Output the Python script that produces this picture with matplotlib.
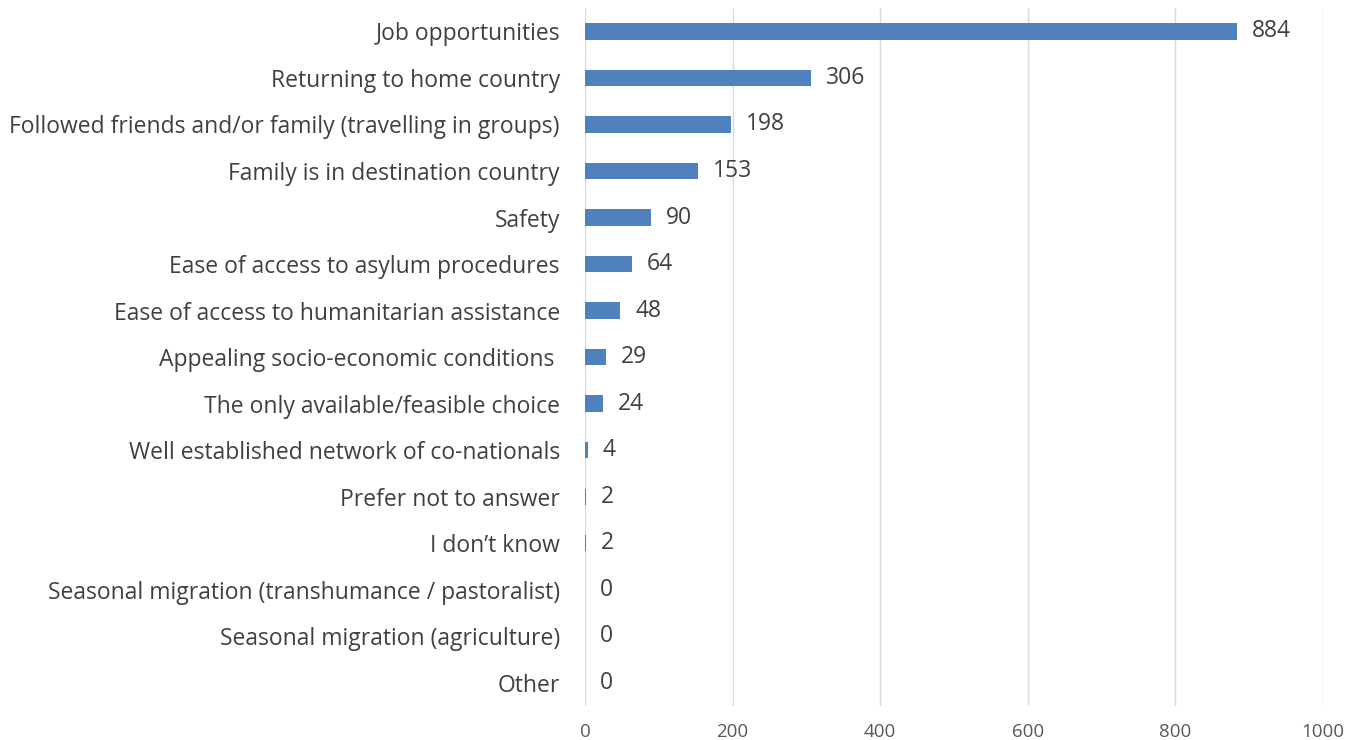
import matplotlib.pyplot as plt

categories = [
    'Job opportunities',
    'Returning to home country',
    'Followed friends and/or family (travelling in groups)',
    'Family is in destination country',
    'Safety',
    'Ease of access to asylum procedures',
    'Ease of access to humanitarian assistance',
    'Appealing socio-economic conditions ',
    'The only available/feasible choice',
    'Well established network of co-nationals',
    'Prefer not to answer',
    'I don\u2019t know',
    'Seasonal migration (transhumance / pastoralist)',
    'Seasonal migration (agriculture)',
    'Other',
]
values = [884, 306, 198, 153, 90, 64, 48, 29, 24, 4, 2, 2, 0, 0, 0]
xticks = [0, 200, 400, 600, 800, 1000]

plt.rcParams['font.family'] = ['Open Sans', 'DejaVu Sans']

fig = plt.figure(figsize=(13.61, 7.4), dpi=100)
ax = fig.add_axes([0.4298, 0.0459, 0.5423, 0.9431])

y = list(range(len(categories)))
ax.barh(y, values, height=0.35, color='#4F81BD', zorder=3)
for yi, v in zip(y, values):
    ax.text(v + 20, yi, str(v), va='center', ha='left', fontsize=16.5,
            color='#404040')

ax.set_ylim(len(categories) - 0.5, -0.5)
ax.set_xlim(0, 1000)
ax.set_yticks(y)
ax.set_yticklabels(categories, fontsize=16.5, color='#404040')
ax.set_xticks(xticks)
ax.set_xticklabels([str(t) for t in xticks], fontsize=13.5, color='#595959')
ax.tick_params(axis='y', length=0, pad=18)
ax.tick_params(axis='x', length=0, pad=12)
ax.grid(axis='x', color='#D9D9D9', linewidth=1, zorder=0)
for s in ax.spines.values():
    s.set_visible(False)

plt.savefig('out.png', dpi=100)
